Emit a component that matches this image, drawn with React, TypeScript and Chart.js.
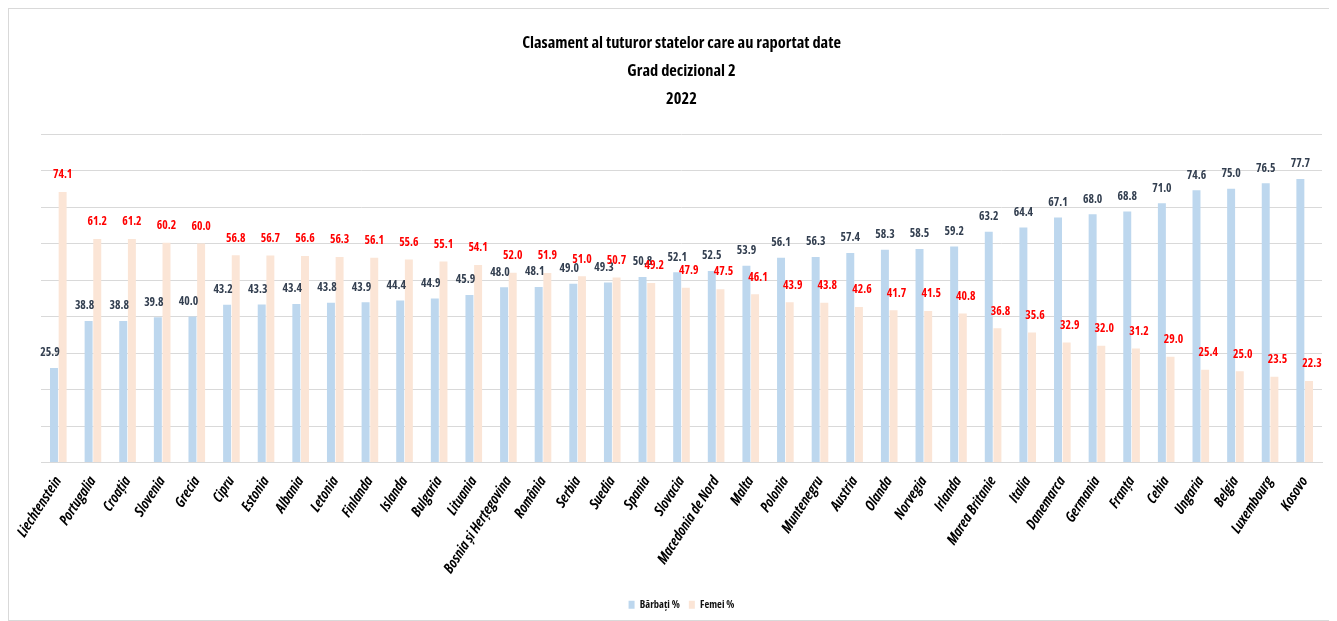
import React, { useEffect, useRef } from "react";
import { Chart, registerables } from "chart.js";

Chart.register(...registerables);

const categories: string[] = [
  "Liechtenstein", "Portugalia", "Croația", "Slovenia", "Grecia", "Cipru", "Estonia", "Albania",
  "Letonia", "Finlanda", "Islanda", "Bulgaria", "Lituania", "Bosnia și Herțegovina", "România",
  "Serbia", "Suedia", "Spania", "Slovacia", "Macedonia de Nord", "Malta", "Polonia", "Muntenegru",
  "Austria", "Olanda", "Norvegia", "Irlanda", "Marea Britanie", "Italia", "Danemarca", "Germania",
  "Franța", "Cehia", "Ungaria", "Belgia", "Luxembourg", "Kosovo",
];

const barbati: number[] = [
  25.9, 38.8, 38.8, 39.8, 40.0, 43.2, 43.3, 43.4, 43.8, 43.9, 44.4, 44.9, 45.9, 48.0, 48.1,
  49.0, 49.3, 50.8, 52.1, 52.5, 53.9, 56.1, 56.3, 57.4, 58.3, 58.5, 59.2, 63.2, 64.4, 67.1,
  68.0, 68.8, 71.0, 74.6, 75.0, 76.5, 77.7,
];

const femei: number[] = [
  74.1, 61.2, 61.2, 60.2, 60.0, 56.8, 56.7, 56.6, 56.3, 56.1, 55.6, 55.1, 54.1, 52.0, 51.9,
  51.0, 50.7, 49.2, 47.9, 47.5, 46.1, 43.9, 43.8, 42.6, 41.7, 41.5, 40.8, 36.8, 35.6, 32.9,
  32.0, 31.2, 29.0, 25.4, 25.0, 23.5, 22.3,
];

const titleLines: string[] = [
  "Clasament al tuturor statelor care au raportat date",
  "Grad decizional 2",
  "2022",
];

const seriesNames: string[] = ["Bărbați %", "Femei %"];

const FAMILY = "'Open Sans', 'Liberation Sans', sans-serif";
const WEIGHT = "bold condensed";

function fitSize(text: string, style: string, target: number): number {
  const c = document.createElement("canvas");
  const ctx = c.getContext("2d");
  if (!ctx) return 12;
  ctx.font = `${style} ${WEIGHT} 100px ${FAMILY}`.trim();
  const w = ctx.measureText(text).width;
  if (!w) return 12;
  return Math.round(((100 * target) / w) * 10) / 10;
}

export default function App() {
  const ref = useRef<HTMLCanvasElement | null>(null);

  useEffect(() => {
    if (!ref.current) return;
    const titleSize = fitSize(titleLines[0], "", 318);
    const valueSize = fitSize("25.9", "", 19.5);
    const tickSize = fitSize("Macedonia de Nord", "italic", 101);
    const legendSize = fitSize(seriesNames[0], "", 40);

    const labelPlugin = {
      id: "valueLabels",
      afterDatasetsDraw(chart: any) {
        const ctx = chart.ctx;
        ctx.save();
        ctx.font = `${WEIGHT} ${valueSize}px ${FAMILY}`;
        ctx.textAlign = "center";
        ctx.textBaseline = "middle";
        const m0 = chart.getDatasetMeta(0);
        const m1 = chart.getDatasetMeta(1);
        m0.data.forEach((el: any, i: number) => {
          const b = barbati[i];
          const f = femei[i];
          const dx = b < f ? -4 : 0;
          ctx.fillStyle = "#333f50";
          ctx.fillText(b.toFixed(1), el.x + dx, el.y - 15);
        });
        m1.data.forEach((el: any, i: number) => {
          const b = barbati[i];
          const f = femei[i];
          const dx = f < b ? 3 : 0;
          ctx.fillStyle = "#ff0000";
          ctx.fillText(f.toFixed(1), el.x + dx, el.y - 17);
        });
        ctx.restore();
      },
    };

    const chart = new Chart(ref.current, {
      type: "bar",
      data: {
        labels: categories,
        datasets: [
          {
            label: seriesNames[0],
            data: barbati,
            backgroundColor: "#bdd7ee",
            categoryPercentage: 0.5,
            barPercentage: 0.92,
          },
          {
            label: seriesNames[1],
            data: femei,
            backgroundColor: "#fbe5d6",
            categoryPercentage: 0.5,
            barPercentage: 0.92,
          },
        ],
      },
      plugins: [labelPlugin],
      options: {
        animation: false,
        responsive: true,
        maintainAspectRatio: false,
        layout: { padding: { left: 32, right: 10, top: 0, bottom: 0 } },
        plugins: {
          tooltip: { enabled: false },
          title: {
            display: true,
            text: titleLines,
            color: "#000000",
            font: { family: FAMILY, size: titleSize, weight: WEIGHT as any, lineHeight: 28 / titleSize },
            padding: { top: 20, bottom: 21 },
          },
          legend: {
            display: true,
            position: "bottom",
            labels: {
              color: "#111111",
              font: { family: FAMILY, size: legendSize, weight: WEIGHT as any },
              boxWidth: 6,
              boxHeight: 8,
              padding: 9,
            },
          },
        },
        scales: {
          x: {
            grid: { display: false },
            border: { display: true, color: "#d9d9d9", width: 1 },
            ticks: {
              color: "#000000",
              font: { family: FAMILY, size: tickSize, weight: WEIGHT as any, style: "italic" },
              minRotation: 57,
              maxRotation: 57,
              autoSkip: false,
            },
            afterFit: (scale: any) => {
              scale.height = 128;
            },
          },
          y: {
            min: 0,
            max: 90,
            ticks: { display: false, stepSize: 10 },
            grid: { color: "#d9d9d9", lineWidth: 1, drawTicks: false },
            border: { display: false },
          },
        },
      },
    });
    return () => chart.destroy();
  }, []);

  return (
    <div
      style={{
        position: "relative",
        width: 1325,
        height: 613,
        border: "1px solid #d9d9d9",
        boxSizing: "border-box",
        background: "#ffffff",
      }}
    >
      <canvas ref={ref} />
    </div>
  );
}
